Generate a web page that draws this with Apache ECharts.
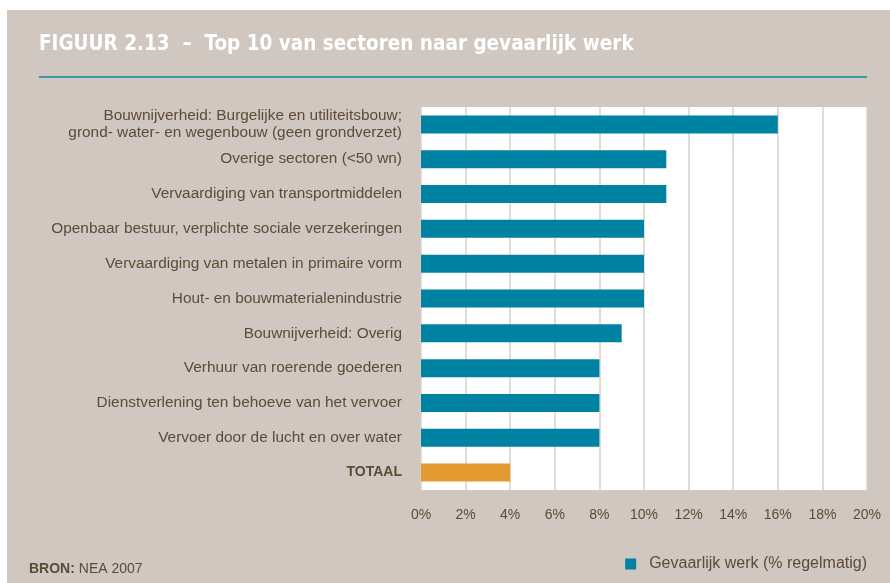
<!DOCTYPE html>
<html>
<head>
<meta charset="utf-8">
<script src="https://cdn.jsdelivr.net/npm/echarts@6/dist/echarts.min.js"></script>
<style>
  html, body { margin: 0; padding: 0; background: #fff; }
  #main { width: 890px; height: 583px; }
</style>
</head>
<body>
<div id="main"></div>
<script>
// sectoren, van boven naar beneden
var categories = [
  'Bouwnijverheid: Burgelijke en utiliteitsbouw;\ngrond- water- en wegenbouw (geen grondverzet)',
  'Overige sectoren (<50 wn)',
  'Vervaardiging van transportmiddelen',
  'Openbaar bestuur, verplichte sociale verzekeringen',
  'Vervaardiging van metalen in primaire vorm',
  'Hout- en bouwmaterialenindustrie',
  'Bouwnijverheid: Overig',
  'Verhuur van roerende goederen',
  'Dienstverlening ten behoeve van het vervoer',
  'Vervoer door de lucht en over water',
  'TOTAAL'
];
var values = [16, 11, 11, 10, 10, 10, 9, 8, 8, 8, 4];
var tickMin = 0, tickMax = 20, tickStep = 2;

var teal = '#0082a2';
var orange = '#e39a30';
var brown = '#5e4b37';
var beige = '#cfc7c0';
var font = '"Liberation Sans", Arial, sans-serif';

var chart = echarts.init(document.getElementById('main'));

var barData = values.map(function(v, i) {
  if (categories[i] === 'TOTAAL') {
    return { value: v, itemStyle: { color: orange } };
  }
  return v;
});

chart.setOption({
  backgroundColor: '#ffffff',
  animation: false,
  graphic: [
    { type: 'rect', z: -10, shape: { x: 7, y: 10, width: 883, height: 573 }, style: { fill: beige } },
    { type: 'line', shape: { x1: 39, y1: 77, x2: 867, y2: 77 }, style: { stroke: '#3b98ae', lineWidth: 2 } },
    {
      type: 'text', left: 29, top: 562,
      style: {
        text: '{b|BRON:} NEA 2007',
        font: '14px ' + font,
        fill: brown,
        rich: { b: { fontWeight: 'bold', fontSize: 14, fontFamily: font, fill: brown, color: brown } }
      }
    }
  ],
  title: {
    text: 'FIGUUR 2.13  –  Top 10 van sectoren naar gevaarlijk werk',
    left: 34, top: 29,
    textStyle: { color: '#ffffff', fontSize: 20.5, fontWeight: 'bold', fontFamily: '"DejaVu Sans Condensed", "Liberation Sans Narrow", sans-serif' }
  },
  legend: {
    right: 23, top: 556, padding: 0,
    icon: 'rect', itemWidth: 11, itemHeight: 11, itemGap: 10,
    textStyle: { color: brown, fontSize: 16, fontFamily: font, padding: [0, 0, 0, 8] },
    data: ['Gevaarlijk werk (% regelmatig)']
  },
  grid: {
    left: 421, right: 23, top: 107, bottom: 93,
    show: true, backgroundColor: '#ffffff', borderWidth: 0
  },
  xAxis: {
    type: 'value',
    min: tickMin, max: tickMax, interval: tickStep,
    axisLine: { show: false },
    axisTick: { show: false },
    axisLabel: {
      color: brown, fontSize: 14, fontFamily: font, margin: 18,
      formatter: function(v) { return v + '%'; }
    },
    splitLine: { show: true, lineStyle: { color: '#d8d0ca', width: 1.5 } }
  },
  yAxis: {
    type: 'category',
    inverse: true,
    data: categories,
    axisLine: { show: false },
    axisTick: { show: false },
    axisLabel: {
      color: brown, fontSize: 15.4, fontFamily: font, margin: 19, lineHeight: 17, align: 'right',
      formatter: function(v) { return v === 'TOTAAL' ? '{b|' + v + '}' : v; },
      rich: { b: { fontWeight: 'bold', fontSize: 14, fontFamily: font, color: brown } }
    }
  },
  series: [{
    name: 'Gevaarlijk werk (% regelmatig)',
    type: 'bar',
    barWidth: 18,
    color: teal,
    data: barData
  }]
});
</script>
</body>
</html>
